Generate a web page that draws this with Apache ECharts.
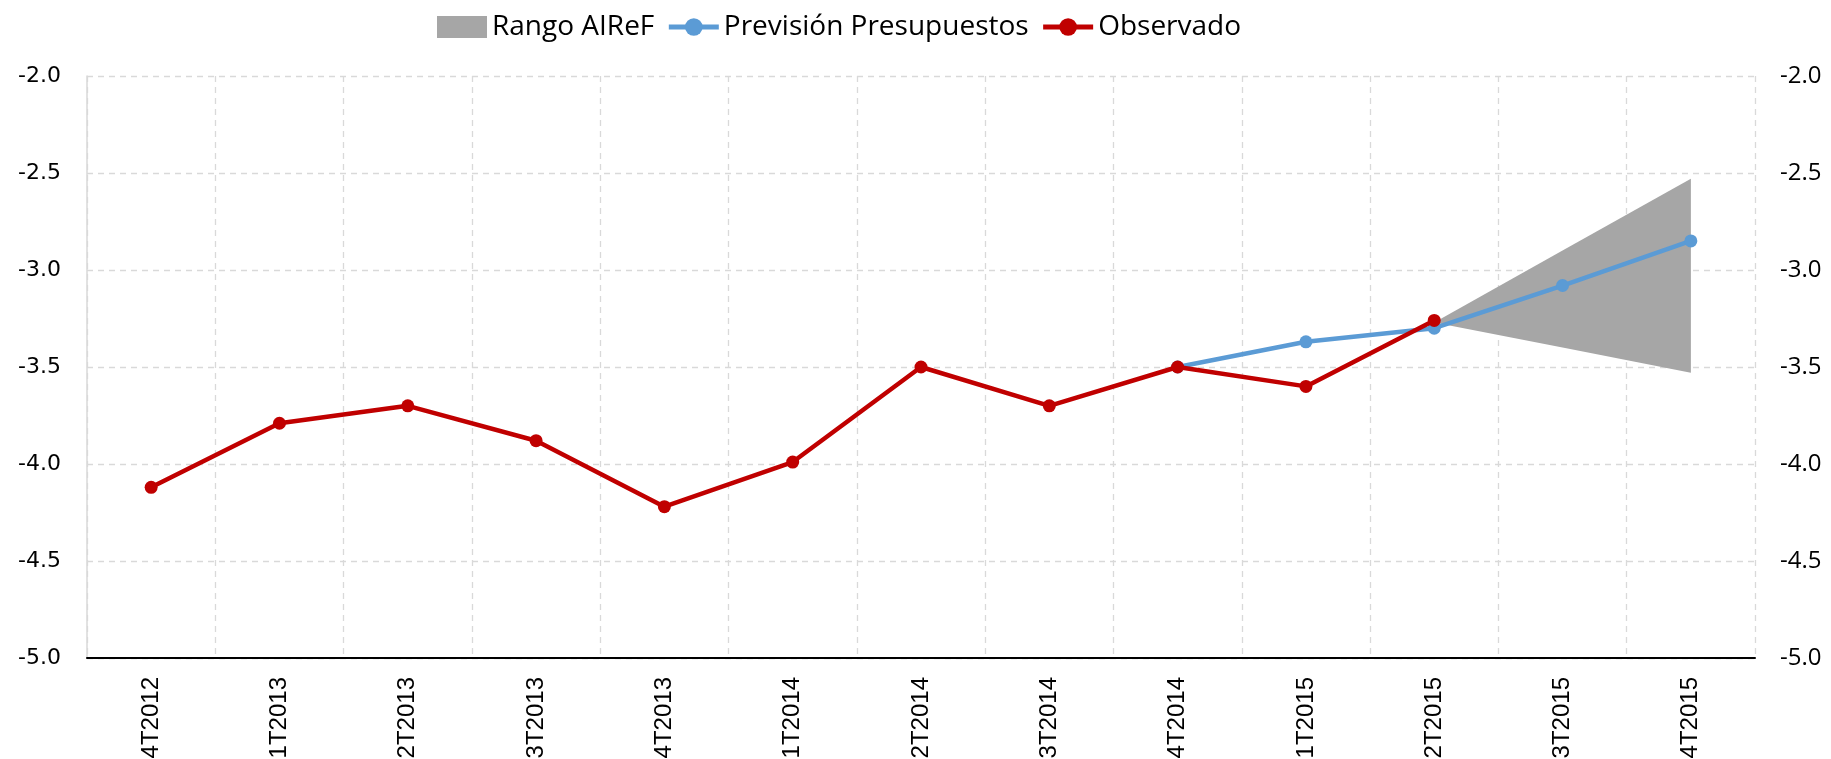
<!DOCTYPE html>
<html>
<head>
<meta charset="utf-8">
<script src="https://cdn.jsdelivr.net/npm/echarts@6/dist/echarts.min.js"></script>
<style>
html,body{margin:0;padding:0;background:#fff;}
#chart{width:1831px;height:759px;}
</style>
</head>
<body>
<div id="chart"></div>
<script>
const categories = ['4T2012','1T2013','2T2013','3T2013','4T2013','1T2014','2T2014','3T2014','4T2014','1T2015','2T2015','3T2015','4T2015'];
const observado = [-4.12,-3.79,-3.70,-3.88,-4.22,-3.99,-3.50,-3.70,-3.50,-3.60,-3.26,'-','-'];
const prevision = ['-','-','-','-','-','-','-','-',-3.50,-3.37,-3.30,-3.08,-2.85];
const rangoLow  = ['-','-','-','-','-','-','-','-','-','-',-3.27,-3.40,-3.53];
const rangoHigh = ['-','-','-','-','-','-','-','-','-','-',-3.27,-2.90,-2.53];
const yTicks = [-5.0,-4.5,-4.0,-3.5,-3.0,-2.5,-2.0];

const rangoBand = rangoLow.map((v,i)=> v==='-' ? '-' : +(rangoHigh[i]-v).toFixed(2));

const chart = echarts.init(document.getElementById('chart'));
const yLabelFmt = v => v.toFixed(1);
chart.setOption({
  animation:false,
  backgroundColor:'#fff',
  textStyle:{fontFamily:'DejaVu Sans'},
  legend:{
    left:432, top:8,
    itemWidth:50, itemHeight:22, itemGap:12,
    textStyle:{fontFamily:'Open Sans', fontSize:28, color:'#000'},
    data:[
      {name:'Rango AIReF', icon:'rect'},
      {name:'Previsión Presupuestos', lineStyle:{width:5}},
      {name:'Observado', lineStyle:{width:5}}
    ]
  },
  grid:{left:87, right:76, top:76, bottom:101, containLabel:false, outerBoundsMode:'none'},
  xAxis:{
    type:'category',
    data:categories,
    boundaryGap:true,
    axisLine:{show:true, lineStyle:{color:'#000', width:2}},
    axisTick:{show:false},
    axisLabel:{rotate:90, margin:19, fontSize:24, color:'#000', fontFamily:'Liberation Sans'},
    splitLine:{show:true, interval:0, lineStyle:{color:'#d9d9d9', type:[6,5], width:1.3}}
  },
  yAxis:[
    {
      type:'value', min:-5, max:-2, interval:0.5, position:'left',
      axisLine:{show:true, onZero:false, lineStyle:{color:'#d9d9d9', width:1.5}},
      axisTick:{show:false},
      axisLabel:{formatter:yLabelFmt, margin:26, fontSize:22, color:'#000', fontFamily:'DejaVu Sans'},
      splitLine:{show:true, lineStyle:{color:'#d9d9d9', type:[6,5], width:1.3}}
    },
    {
      type:'value', min:-5, max:-2, interval:0.5, position:'right',
      axisLine:{show:false},
      axisTick:{show:false},
      axisLabel:{formatter:yLabelFmt, margin:25, fontSize:24, color:'#000', fontFamily:'Open Sans'},
      splitLine:{show:false}
    }
  ],
  series:[
    {
      name:'rangoBase', type:'line', stack:'rango', stackStrategy:'all',
      data:rangoLow, symbol:'none', lineStyle:{opacity:0}, areaStyle:{opacity:0},
      silent:true, z:1
    },
    {
      name:'Rango AIReF', type:'line', stack:'rango', stackStrategy:'all',
      data:rangoBand, symbol:'none', lineStyle:{opacity:0},
      itemStyle:{color:'#A6A6A6'},
      areaStyle:{color:'#A6A6A6', opacity:1}, z:1
    },
    {
      name:'Previsión Presupuestos', type:'line', data:prevision,
      symbol:'circle', symbolSize:13,
      itemStyle:{color:'#5B9BD5'},
      lineStyle:{color:'#5B9BD5', width:4.5}, z:3
    },
    {
      name:'Observado', type:'line', data:observado,
      symbol:'circle', symbolSize:13,
      itemStyle:{color:'#C00000'},
      lineStyle:{color:'#C00000', width:4.5}, z:4
    }
  ]
});
</script>
</body>
</html>
